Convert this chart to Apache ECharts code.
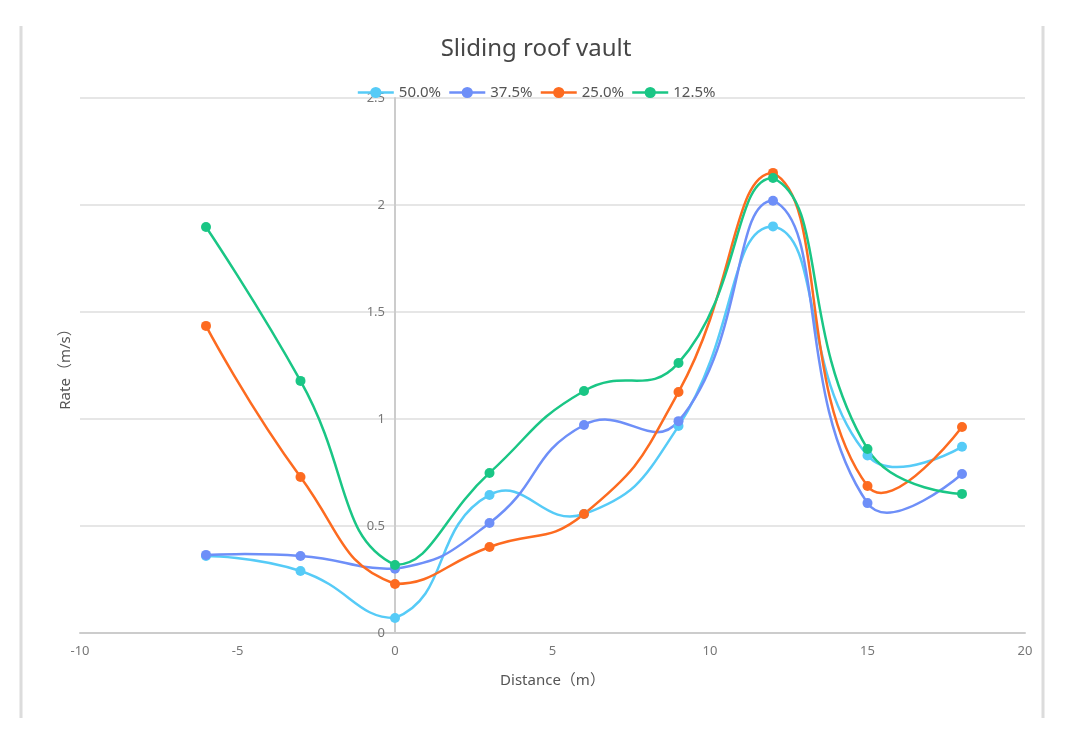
<!DOCTYPE html>
<html>
<head>
<meta charset="utf-8">
<script src="https://cdn.jsdelivr.net/npm/echarts@6/dist/echarts.min.js"></script>
<style>
html,body{margin:0;padding:0;background:#fff;}
#chart{width:1072px;height:745px;}
</style>
</head>
<body>
<div id="chart"></div>
<script>
const distances = [-6, -3, 0, 3, 6, 9, 12, 15, 18];
const seriesNames = ['50.0%', '37.5%', '25.0%', '12.5%'];
const s50 = [0.36, 0.29, 0.07, 0.645, 0.556, 0.967, 1.90, 0.83, 0.87];
const s375 = [0.365, 0.36, 0.30, 0.514, 0.972, 0.99, 2.02, 0.607, 0.743];
const s25 = [1.435, 0.729, 0.229, 0.402, 0.556, 1.126, 2.15, 0.687, 0.963];
const s125 = [1.897, 1.178, 0.318, 0.748, 1.131, 1.262, 2.126, 0.86, 0.65];
const colors = ['#56cbf7', '#6e8ff8', '#fd6b20', '#1ac685'];
const allValues = [s50, s375, s25, s125];

const SMOOTH = 0.5;
const LINE_W = 2.5;

// classic bezier smoothing (control points from neighbours, bounded by the whole line's box)
function controlPoints(pts, smooth) {
  let minX = Infinity, minY = Infinity, maxX = -Infinity, maxY = -Infinity;
  pts.forEach(p => { minX = Math.min(minX, p[0]); maxX = Math.max(maxX, p[0]); minY = Math.min(minY, p[1]); maxY = Math.max(maxY, p[1]); });
  const clamp = p => [Math.min(Math.max(p[0], minX), maxX), Math.min(Math.max(p[1], minY), maxY)];
  const cps = [];
  for (let i = 0; i < pts.length; i++) {
    if (i === 0 || i === pts.length - 1) { cps.push(pts[i].slice()); continue; }
    const prev = pts[i - 1], p = pts[i], next = pts[i + 1];
    const vx = (next[0] - prev[0]) * smooth, vy = (next[1] - prev[1]) * smooth;
    let d0 = Math.hypot(p[0] - prev[0], p[1] - prev[1]);
    let d1 = Math.hypot(p[0] - next[0], p[1] - next[1]);
    const sum = d0 + d1;
    if (sum) { d0 /= sum; d1 /= sum; }
    cps.push(clamp([p[0] - vx * d0, p[1] - vy * d0]));
    cps.push(clamp([p[0] + vx * d1, p[1] + vy * d1]));
  }
  return cps;
}

function curveSeries(name, values, color) {
  return {
    name: name,
    type: 'custom',
    coordinateSystem: 'cartesian2d',
    z: 1,
    silent: true,
    clip: false,
    data: [[distances[0], values[0]]],
    renderItem: function (params, api) {
      const pts = distances.map((d, j) => api.coord([d, values[j]]));
      const cps = controlPoints(pts, SMOOTH);
      const children = [];
      for (let i = 0; i < pts.length - 1; i++) {
        children.push({
          type: 'bezierCurve',
          shape: {
            x1: pts[i][0], y1: pts[i][1],
            x2: pts[i + 1][0], y2: pts[i + 1][1],
            cpx1: cps[2 * i][0], cpy1: cps[2 * i][1],
            cpx2: cps[2 * i + 1][0], cpy2: cps[2 * i + 1][1]
          },
          style: { stroke: color, lineWidth: LINE_W, fill: 'none' }
        });
      }
      return { type: 'group', children: children };
    }
  };
}

const font = '"Noto Sans", "Noto Sans CJK SC", sans-serif';
const chart = echarts.init(document.getElementById('chart'));
const markSeries = seriesNames.map((n, i) => ({
  name: n,
  type: 'line',
  z: 3,
  symbol: 'circle',
  symbolSize: 10,
  itemStyle: { color: colors[i] },
  lineStyle: { color: colors[i], width: LINE_W, opacity: 0 },
  data: distances.map((d, j) => [d, allValues[i][j]])
}));
const curves = seriesNames.map((n, i) => curveSeries(n, allValues[i], colors[i]));

chart.setOption({
  animation: false,
  color: colors,
  textStyle: { fontFamily: font },
  title: {
    text: 'Sliding roof vault',
    left: 'center',
    top: 32,
    textStyle: { fontSize: 24, fontWeight: 'normal', color: '#464646', fontFamily: font }
  },
  legend: {
    top: 80,
    left: 'center',
    itemWidth: 36,
    itemHeight: 14,
    itemGap: 7,
    lineStyle: { opacity: 1, width: LINE_W },
    textStyle: { fontSize: 15, color: '#555', fontFamily: font },
    data: seriesNames
  },
  graphic: [
    { type: 'line', shape: { x1: 21, y1: 26, x2: 21, y2: 718 }, style: { stroke: '#dcdcdc', lineWidth: 3 } },
    { type: 'line', shape: { x1: 1043, y1: 26, x2: 1043, y2: 718 }, style: { stroke: '#dcdcdc', lineWidth: 3 } }
  ],
  grid: { left: 80, right: 47, top: 98, bottom: 112, containLabel: false, outerBoundsMode: 'none' },
  xAxis: {
    type: 'value',
    min: -10, max: 20, interval: 5,
    name: 'Distance（m）',
    nameLocation: 'middle',
    nameGap: 40,
    nameTextStyle: { fontSize: 15, color: '#555', fontFamily: font },
    axisLine: { show: true, onZero: false, lineStyle: { color: '#ccc', width: 2 } },
    axisTick: { show: false },
    axisLabel: { color: '#777', fontSize: 13, margin: 12 },
    splitLine: { show: false }
  },
  yAxis: {
    type: 'value',
    min: 0, max: 2.5, interval: 0.5,
    offset: -315,
    name: 'Rate（m/s）',
    nameLocation: 'middle',
    nameGap: 322,
    nameTextStyle: { fontSize: 15, color: '#555', fontFamily: font },
    axisLine: { show: true, onZero: false, lineStyle: { color: '#ccc', width: 2 } },
    axisTick: { show: false },
    axisLabel: { color: '#777', fontSize: 13, margin: 10 },
    splitLine: { show: true, lineStyle: { color: '#e6e6e6', width: 2 } }
  },
  series: markSeries.concat(curves)
});
</script>
</body>
</html>
